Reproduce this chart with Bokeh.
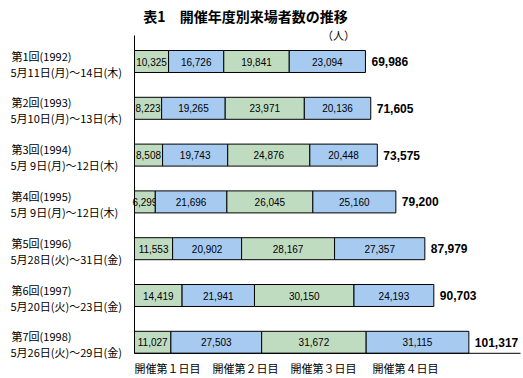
from bokeh.plotting import figure
from bokeh.models import ColumnDataSource, Range1d, Label
from bokeh.embed import file_html
from bokeh.resources import INLINE
from bokeh.core.properties import value

title_text = "表1　開催年度別来場者数の推移"
unit_text = "（人）"
editions = ["第1回(1992)", "第2回(1993)", "第3回(1994)", "第4回(1995)",
            "第5回(1996)", "第6回(1997)", "第7回(1998)"]
dates = ["5月11日(月)～14日(木)", "5月10日(月)～13日(木)", "5月 9日(月)～12日(木)",
         "5月 9日(月)～12日(木)", "5月28日(火)～31日(金)", "5月20日(火)～23日(金)",
         "5月26日(火)～29日(金)"]
day1 = [10325, 8223, 8508, 6299, 11553, 14419, 11027]
day2 = [16726, 19265, 19743, 21696, 20902, 21941, 27503]
day3 = [19841, 23971, 24876, 26045, 28167, 30150, 31672]
day4 = [23094, 20136, 20448, 25160, 27357, 24193, 31115]
totals = [69986, 71605, 73575, 79200, 87979, 90703, 101317]
day_labels = ["開催第１日目", "開催第２日目", "開催第３日目", "開催第４日目"]

GREEN = "#c0dcc0"
BLUE = "#a6caf0"
JP = "Noto Sans CJK JP"
NUM = "Liberation Sans"

W, H = 523, 378
AX = 134          # pixel of x=0
S = 0.00330       # px per person
ROW0, ROWSTEP = 61, 46.8

xr = Range1d(-AX / S, (W - AX) / S)
yr = Range1d((H - ROW0) / ROWSTEP, -ROW0 / ROWSTEP)

p = figure(width=W, height=H, x_range=xr, y_range=yr, output_backend="svg",
           toolbar_location=None, min_border=0, x_axis_type=None, y_axis_type=None)
p.outline_line_color = None
p.xgrid.visible = False
p.ygrid.visible = False
p.background_fill_color = "white"

rows = list(range(len(totals)))
series = [day1, day2, day3, day4]
colors = [GREEN, BLUE, GREEN, BLUE]
left = [0] * len(rows)
for vals, col in zip(series, colors):
    right = [l + v for l, v in zip(left, vals)]
    src = ColumnDataSource(dict(y=rows, left=left, right=right,
                                mid=[(l + r) / 2 for l, r in zip(left, right)],
                                lab=[f"{v:,}" for v in vals]))
    p.hbar(y="y", left="left", right="right", height=0.47, source=src,
           fill_color=col, line_color="black", line_width=1)
    p.text(x="mid", y="y", text="lab", source=src, text_align="center",
           text_baseline="middle", text_font=value(NUM), text_font_size="10px",
           text_color="black")
    left = right

tsrc = ColumnDataSource(dict(y=rows, x=left, lab=[f"{t:,}" for t in totals]))
p.text(x="x", y="y", text="lab", source=tsrc, x_offset=6, text_align="left",
       text_baseline="middle", text_font=value(NUM), text_font_size="12px",
       text_font_style="bold", text_color="black")

lsrc = ColumnDataSource(dict(y=rows, x=[0] * len(rows), ed=editions, dt=dates))
p.text(x="x", y="y", text="ed", source=lsrc, x_offset=-123, y_offset=-6,
       text_align="left", text_baseline="middle", text_font=value(JP),
       text_font_size="11px", text_color="black")
p.text(x="x", y="y", text="dt", source=lsrc, x_offset=-124, y_offset=10,
       text_align="left", text_baseline="middle", text_font=value(JP),
       text_font_size="11px", text_color="black")

# axis lines
ytop = (35 - ROW0) / ROWSTEP
ybot = rows[-1] + 0.235
p.segment(x0=[0], y0=[ytop], x1=[0], y1=[ybot], line_color="black", line_width=1)
p.segment(x0=[0], y0=[ybot], x1=[(520 - AX) / S], y1=[ybot], line_color="black", line_width=1)

p.add_layout(Label(x=245, y=H - 15, x_units="screen", y_units="screen", text=title_text,
                   text_align="center", text_baseline="middle", text_font=JP,
                   text_font_size="14px", text_font_style="bold", text_color="black"))
p.add_layout(Label(x=338, y=H - 34, x_units="screen", y_units="screen", text=unit_text,
                   text_align="center", text_baseline="middle", text_font=JP,
                   text_font_size="11px", text_color="black"))
for xpix, t in zip([134, 212, 290, 372], day_labels):
    p.add_layout(Label(x=xpix, y=H - 367, x_units="screen", y_units="screen", text=t,
                       text_align="left", text_baseline="middle", text_font=JP,
                       text_font_size="11px", text_color="black"))

open("out.html", "w").write(file_html(p, INLINE))
